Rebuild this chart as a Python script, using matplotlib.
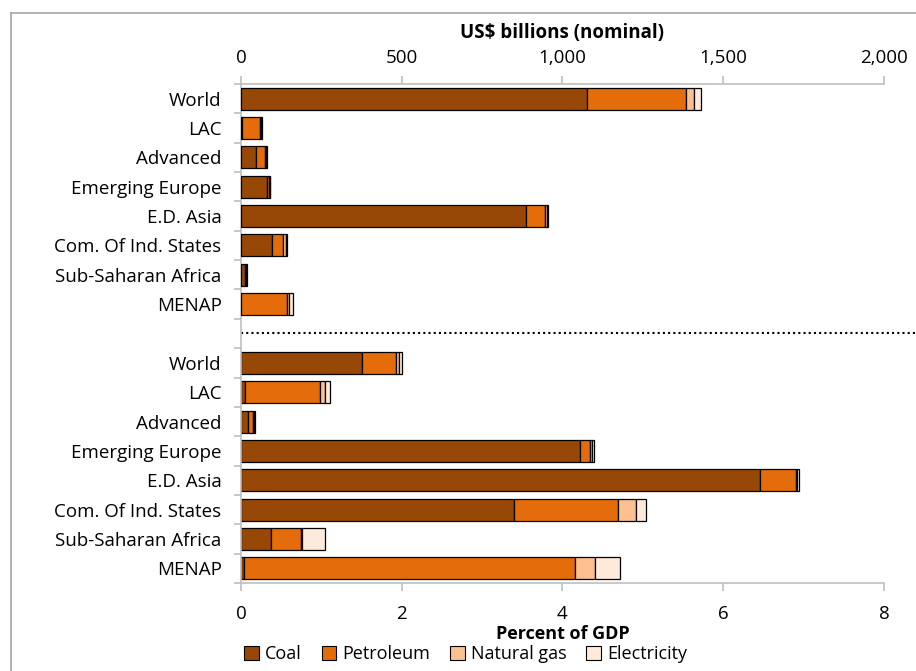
import numpy as np
import matplotlib.pyplot as plt
from matplotlib.lines import Line2D
from matplotlib.patches import Patch

plt.rcParams['font.family'] = ['Open Sans', 'DejaVu Sans']

regions = ['World', 'LAC', 'Advanced', 'Emerging Europe', 'E.D. Asia',
           'Com. Of Ind. States', 'Sub-Saharan Africa', 'MENAP']

# top panel: US$ billions (nominal)
coal_usd = [1075, 3, 48, 82, 888, 95, 12, 1]
petrol_usd = [309, 55, 26, 5, 59, 37, 3, 141]
gas_usd = [25, 4, 5, 2, 4, 7, 1, 8]
elec_usd = [23, 2, 3, 1, 3, 4, 2, 12]

# bottom panel: percent of GDP
coal_gdp = [1.50, 0.05, 0.09, 4.22, 6.46, 3.40, 0.37, 0.04]
petrol_gdp = [0.43, 0.93, 0.06, 0.12, 0.44, 1.29, 0.38, 4.12]
gas_gdp = [0.03, 0.06, 0.015, 0.03, 0.02, 0.23, 0.01, 0.25]
elec_gdp = [0.04, 0.07, 0.01, 0.02, 0.02, 0.12, 0.29, 0.31]

fuels = ['Coal', 'Petroleum', 'Natural gas', 'Electricity']
colors = ['#974807', '#E46C0A', '#FAC090', '#FDEADA']

fig = plt.figure(figsize=(9.16, 6.71), dpi=100)
ax = fig.add_axes([241/916, 1 - 583/671, 643/916, 499/671])
ax2 = ax.twiny()

n = len(regions)
top_pos = np.arange(n)
bot_pos = np.arange(n) + n + 1
h = 0.75


def stack(axis, pos, series):
    left = np.zeros(len(pos))
    for vals, c in zip(series, colors):
        axis.barh(pos, vals, left=left, height=h, color=c,
                  edgecolor='black', linewidth=0.9)
        left += np.array(vals)


stack(ax2, top_pos, [coal_usd, petrol_usd, gas_usd, elec_usd])
stack(ax, bot_pos, [coal_gdp, petrol_gdp, gas_gdp, elec_gdp])

ax.set_ylim(2 * n + 0.5, -0.5)
ax.set_xlim(0, 8)
ax2.set_xlim(0, 2000)

# category labels and boundary ticks
ax.set_yticks(list(top_pos) + list(bot_pos))
ax.set_yticklabels(regions + regions, fontsize=13.5)
ax.set_yticks(np.arange(-0.5, 2 * n + 1, 1.0), minor=True)
ax.tick_params(axis='y', which='major', length=0, pad=14)
ax.tick_params(axis='y', which='minor', length=5, color='#bfbfbf', width=1.2)

ax.set_xticks([0, 2, 4, 6, 8])
ax.set_xticklabels(['0', '2', '4', '6', '8'])
ax.tick_params(axis='x', length=6, color='#bfbfbf', width=1.2,
               labelsize=13.5, pad=10)
ax.set_xlabel('Percent of GDP', fontsize=13, fontweight='bold', labelpad=1)

ax2.set_xticks([0, 500, 1000, 1500, 2000])
ax2.set_xticklabels(['0', '500', '1,000', '1,500', '2,000'])
ax2.tick_params(axis='x', length=6, color='#bfbfbf', width=1.2,
                labelsize=13.5, pad=6)
ax2.set_xlabel('US$ billions (nominal)', fontsize=13.5, fontweight='bold',
               labelpad=8)

for a in (ax, ax2):
    a.spines['right'].set_visible(False)
    for s in ('left', 'top', 'bottom'):
        a.spines[s].set_color('#bfbfbf')
        a.spines[s].set_linewidth(1.2)
ax.spines['top'].set_visible(False)
ax2.spines['bottom'].set_visible(False)
ax2.spines['left'].set_visible(False)

# dotted separator between the two panels
ax.plot([0, 8 * 675 / 643], [n, n], color='black', linestyle=(0, (1, 1.5)),
        linewidth=1.5, clip_on=False)

# frame lines of the chart area
fig.add_artist(Line2D([11/916, 1], [1 - 13/671] * 2, color='#a6a6a6', lw=1.2))
fig.add_artist(Line2D([11/916] * 2, [0, 1 - 13/671], color='#a6a6a6', lw=1.2))

handles = [Patch(facecolor=c, edgecolor='black', linewidth=0.8) for c in colors]
fig.legend(handles, fuels, loc='center left', bbox_to_anchor=(237/916, 1 - 654/671),
           ncol=4, frameon=False, fontsize=13, handlelength=0.8, handleheight=0.8,
           handletextpad=0.35, columnspacing=1.1, borderaxespad=0)

fig.savefig('out.png', dpi=100)
